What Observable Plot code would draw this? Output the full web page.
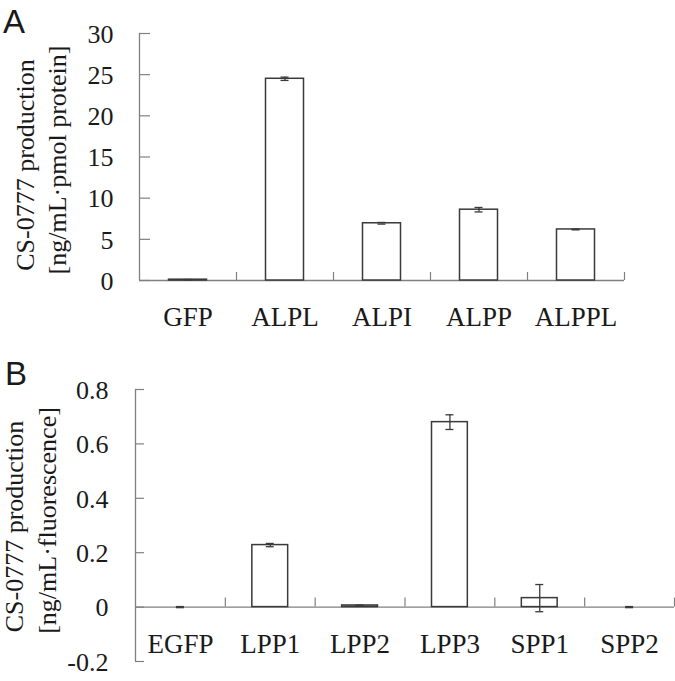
<!DOCTYPE html>
<html>
<head>
<meta charset="utf-8">
<script src="https://cdn.jsdelivr.net/npm/d3@7"></script>
<script src="https://cdn.jsdelivr.net/npm/@observablehq/plot@0.6"></script>
<style>
  body { margin: 0; background: #fff; }
  #wrap { position: relative; width: 675px; height: 681px; overflow: hidden; }
  #wrap svg { display: block; }
  .letter { position: absolute; font-family: "Liberation Sans", Arial, sans-serif; font-size: 33px; line-height: 1; color: #1a1a1a; }
</style>
</head>
<body>
<div id="wrap">
  <div id="pa"></div>
  <div id="pb"></div>
  <div class="letter" style="left:3px; top:5px;">A</div>
  <div class="letter" style="left:5px; top:357px;">B</div>
</div>
<script>
// Panel A data
const catsA = ["GFP", "ALPL", "ALPI", "ALPP", "ALPPL"];
const valsA = [0.1, 24.5, 6.95, 8.6, 6.2];
const errsA = [0.02, 0.2, 0.1, 0.27, 0.05];
const ticksA = [0, 5, 10, 15, 20, 25, 30];
const titleA = ["CS-0777 production", "[ng/mL\u00B7pmol protein]"];

// Panel B data
const catsB = ["EGFP", "LPP1", "LPP2", "LPP3", "SPP1", "SPP2"];
const valsB = [0, 0.228, 0.006, 0.68, 0.033, 0];
const errsB = [0.002, 0.006, 0.001, 0.027, 0.05, 0.002];
const ticksB = [-0.2, 0, 0.2, 0.4, 0.6, 0.8];
const titleB = ["CS-0777 production", "[ng/mL\u00B7fluorescence]"];

const AXIS = "#808080";
const INK = "#1a1a1a";
const BAR = "#3a3a3a";
const FONT = "Liberation Serif, Times New Roman, serif";

function panel(o) {
  const n = o.cats.length;
  const idx = d3.range(n);
  return Plot.plot({
    width: 675,
    height: o.height,
    marginTop: o.mt, marginBottom: o.mb, marginLeft: o.ml, marginRight: o.mr,
    style: {fontFamily: FONT, fontSize: "26px", color: INK, background: "white", overflow: "visible"},
    x: {domain: [0, n]},
    y: {domain: o.yDomain},
    marks: [
      // axes lines
      Plot.ruleX([0], {stroke: AXIS, strokeWidth: 1.3}),
      Plot.ruleY([0], {stroke: AXIS, strokeWidth: 1.3}),
      // inward y ticks
      Plot.ruleY(o.ticks, {x1: 0, x2: 0, insetRight: -o.yTick, stroke: AXIS, strokeWidth: 1.2}),
      // category boundary ticks (pointing up from zero line)
      Plot.ruleX(d3.range(1, n + 1), {y1: 0, y2: 0, insetBottom: o.xTick, stroke: AXIS, strokeWidth: 1.2}),
      // bars
      Plot.rectY(idx, {x1: i => i, x2: i => i + 1, y1: 0, y2: i => o.vals[i],
        insetLeft: o.inset, insetRight: o.inset, fill: "white", stroke: BAR, strokeWidth: 1.5}),
      // error bars
      Plot.ruleX(idx, {x: i => i + 0.5, y1: i => o.vals[i] - o.errs[i], y2: i => o.vals[i] + o.errs[i], stroke: BAR, strokeWidth: 1.3}),
      Plot.ruleY(idx, {x1: i => i + 0.5, x2: i => i + 0.5, y: i => o.vals[i] + o.errs[i], insetLeft: -4, insetRight: -4, stroke: BAR, strokeWidth: 1.3}),
      Plot.ruleY(idx, {x1: i => i + 0.5, x2: i => i + 0.5, y: i => o.vals[i] - o.errs[i], insetLeft: -4, insetRight: -4, stroke: BAR, strokeWidth: 1.3}),
      // axes labels
      Plot.axisY({ticks: o.ticks, tickSize: 0, tickPadding: o.yPad, tickFormat: d => String(d), fontSize: 26, fill: INK, dy: 1}),
      Plot.axisX({ticks: idx.map(i => i + 0.5), tickSize: 0, tickPadding: o.xPad,
        tickFormat: d => o.cats[Math.round(d - 0.5)], fontSize: 27, fill: INK}),
      // y title (two lines)
      Plot.text([o.title[0]], {frameAnchor: "left", textAnchor: "middle", rotate: -90, dx: o.t1dx, dy: o.t1dy, fontSize: 26, fill: INK, lineAnchor: "middle"}),
      Plot.text([o.title[1]], {frameAnchor: "left", textAnchor: "middle", rotate: -90, dx: o.t2dx, dy: o.t2dy, fontSize: 26, fill: INK, lineAnchor: "middle"})
    ]
  });
}

document.getElementById("pa").append(panel({
  cats: catsA, vals: valsA, errs: errsA, ticks: ticksA, title: titleA,
  yDomain: [0, 30], height: 340, mt: 33, mb: 60, ml: 139, mr: 51,
  inset: 29.5, yTick: 11, xTick: 8, yPad: 26, xPad: 26,
  t1dx: -114, t1dy: 8, t2dx: -82, t2dy: 3
}));

document.getElementById("pb").append(panel({
  cats: catsB, vals: valsB, errs: errsB, ticks: ticksB, title: titleB,
  yDomain: [-0.2, 0.8], height: 341, mt: 49, mb: 20, ml: 135, mr: 1,
  inset: 27, yTick: 9, xTick: 9, yPad: 27, xPad: -28,
  t1dx: -121, t1dy: 1, t2dx: -88, t2dy: -5
}));
</script>
</body>
</html>
